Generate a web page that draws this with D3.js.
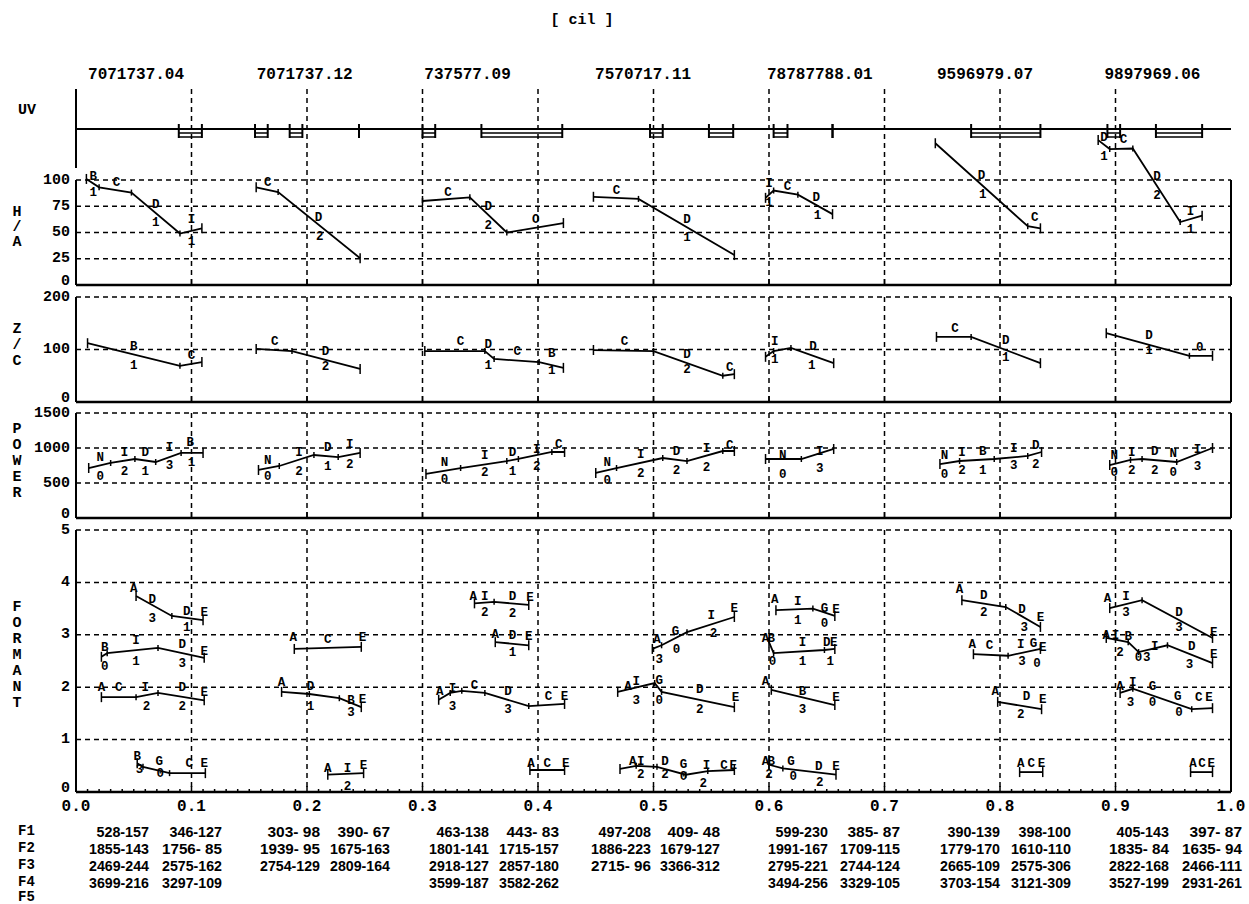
<!DOCTYPE html>
<html>
<head>
<meta charset="utf-8">
<script src="https://cdn.jsdelivr.net/npm/d3@7"></script>
<style>
  body { margin: 0; background: #fff; }
  text { font-family: "Liberation Mono", "DejaVu Sans Mono", monospace; font-weight: bold; fill: #000; }
  .lab { font-size: 12.5px; }
  .tbl { font-family: "Liberation Sans", "DejaVu Sans", sans-serif; font-weight: bold; font-size: 15px; white-space: pre; }
</style>
</head>
<body>
<div id="chart"></div>
<script>
// ---- data ----
const title = "[ cil ]";
const headers = ["7071737.04", "7071737.12", "737577.09", "7570717.11", "78787788.01", "9596979.07", "9897969.06"];
const xTicks = [0, 0.1, 0.2, 0.3, 0.4, 0.5, 0.6, 0.7, 0.8, 0.9, 1.0];

// UV intervals [start, end]
const uvMarks = [[0.089, 0.109], [0.155, 0.166], [0.185, 0.196], [0.245, 0.245], [0.300, 0.311],
  [0.351, 0.421], [0.497, 0.508], [0.548, 0.569], [0.604, 0.616], [0.655, 0.655],
  [0.775, 0.835], [0.893, 0.904], [0.935, 0.975]];

const haTicks = [0, 25, 50, 75, 100];
const haLines = [
  [[0.009, 101], [0.020, 93], [0.048, 88], [0.090, 49], [0.109, 54]],
  [[0.156, 93], [0.175, 88.5], [0.246, 25.5]],
  [[0.300, 80], [0.341, 83.5], [0.373, 50], [0.422, 59]],
  [[0.448, 84], [0.487, 82], [0.570, 28.5]],
  [[0.597, 83], [0.604, 90], [0.625, 86], [0.655, 67.5]],
  [[0.744, 135], [0.824, 56], [0.835, 54]],
  [[0.885, 138], [0.895, 129.5], [0.915, 130], [0.956, 60], [0.975, 66]]
];
const haLabels = [
  [0.015, 103, "B"], [0.015, 88, "1"], [0.035, 97, "C"], [0.069, 76, "D"], [0.069, 59, "1"], [0.100, 62, "I"], [0.100, 41, "1"],
  [0.166, 97, "C"], [0.210, 64, "D"], [0.211, 46, "2"],
  [0.322, 88, "C"], [0.357, 74, "D"], [0.357, 56, "2"], [0.398, 62, "O"],
  [0.468, 90, "C"], [0.529, 62, "D"], [0.529, 45, "1"],
  [0.600, 96, "I"], [0.600, 78, "1"], [0.616, 93, "C"], [0.641, 83, "D"], [0.642, 66, "1"],
  [0.784, 104, "D"], [0.785, 86, "1"], [0.830, 64, "C"],
  [0.890, 140, "D"], [0.890, 122, "1"], [0.907, 138, "C"], [0.936, 103, "D"], [0.936, 85, "2"], [0.965, 70, "I"], [0.965, 52, "1"]
];

const zcTicks = [0, 100, 200];
const zcLines = [
  [[0.010, 112], [0.090, 69], [0.109, 76]],
  [[0.156, 101], [0.187, 97], [0.246, 63]],
  [[0.302, 97], [0.354, 97], [0.362, 82], [0.401, 76], [0.422, 65]],
  [[0.448, 99], [0.500, 97], [0.560, 50], [0.570, 53]],
  [[0.597, 86], [0.604, 97], [0.619, 103], [0.656, 74]],
  [[0.745, 124], [0.775, 124], [0.835, 74]],
  [[0.892, 131], [0.964, 88], [0.984, 88]]
];
const zcLabels = [
  [0.050, 105, "B"], [0.050, 69, "1"], [0.100, 88, "C"],
  [0.172, 114, "C"], [0.216, 95, "D"], [0.216, 66, "2"],
  [0.333, 115, "C"], [0.357, 108, "D"], [0.382, 95, "C"], [0.412, 91, "B"], [0.357, 69, "1"], [0.412, 59, "1"],
  [0.475, 115, "C"], [0.529, 90, "D"], [0.529, 61, "2"], [0.566, 65, "C"],
  [0.605, 114, "I"], [0.605, 80, "1"], [0.638, 105, "D"], [0.637, 69, "1"],
  [0.761, 139, "C"], [0.805, 116, "D"], [0.805, 84, "1"],
  [0.929, 125, "D"], [0.929, 97, "1"], [0.973, 103, "0"]
];

const pwTicks = [0, 500, 1000, 1500];
const pwLines = [
  [[0.011, 714], [0.030, 786], [0.051, 843], [0.069, 800], [0.091, 929], [0.110, 929]],
  [[0.158, 686], [0.176, 743], [0.206, 900], [0.227, 871], [0.246, 929]],
  [[0.303, 629], [0.333, 714], [0.373, 814], [0.383, 843], [0.412, 943], [0.423, 943]],
  [[0.450, 643], [0.468, 714], [0.508, 857], [0.529, 814], [0.560, 957], [0.570, 957]],
  [[0.597, 843], [0.628, 843], [0.656, 986]],
  [[0.748, 771], [0.765, 814], [0.795, 843], [0.824, 886], [0.836, 943]],
  [[0.895, 757], [0.913, 829], [0.923, 843], [0.953, 800], [0.984, 1000]]
];
const pwLabels = [
  [0.021, 857, "N"], [0.021, 586, "0"], [0.042, 929, "I"], [0.042, 657, "2"], [0.060, 929, "D"], [0.060, 657, "1"],
  [0.081, 1000, "I"], [0.081, 743, "3"], [0.099, 1071, "B"], [0.100, 786, "1"],
  [0.166, 814, "N"], [0.166, 586, "0"], [0.193, 929, "I"], [0.193, 657, "2"], [0.218, 1000, "D"], [0.218, 729, "1"],
  [0.237, 1043, "I"], [0.237, 757, "2"],
  [0.319, 786, "N"], [0.319, 543, "0"], [0.354, 886, "I"], [0.354, 643, "2"], [0.378, 929, "D"], [0.378, 657, "1"],
  [0.399, 971, "I"], [0.399, 729, "2"], [0.418, 1043, "C"],
  [0.460, 786, "N"], [0.460, 529, "0"], [0.489, 900, "I"], [0.489, 629, "2"], [0.520, 943, "D"], [0.520, 671, "2"],
  [0.546, 986, "I"], [0.546, 714, "2"], [0.566, 1029, "C"],
  [0.612, 886, "N"], [0.612, 614, "0"], [0.644, 943, "I"], [0.644, 700, "3"],
  [0.752, 886, "N"], [0.752, 614, "0"], [0.767, 929, "I"], [0.767, 671, "2"], [0.785, 943, "B"], [0.785, 671, "1"],
  [0.812, 986, "I"], [0.812, 743, "3"], [0.831, 1029, "D"], [0.831, 757, "2"],
  [0.899, 886, "N"], [0.899, 643, "0"], [0.914, 929, "I"], [0.914, 671, "2"], [0.934, 943, "D"], [0.934, 671, "2"],
  [0.950, 914, "N"], [0.950, 643, "0"], [0.971, 971, "I"], [0.971, 729, "3"]
];

const fmTicks = [0, 1, 2, 3, 4, 5];
const fmLines = [
  [[0.052, 3.74], [0.083, 3.36], [0.110, 3.28]],
  [[0.022, 2.58], [0.027, 2.65], [0.071, 2.75], [0.111, 2.56]],
  [[0.022, 1.81], [0.052, 1.81], [0.071, 1.89], [0.111, 1.75]],
  [[0.053, 0.55], [0.058, 0.48], [0.081, 0.36], [0.112, 0.36]],
  [[0.189, 2.73], [0.247, 2.77]],
  [[0.178, 1.91], [0.202, 1.87], [0.228, 1.79], [0.247, 1.62]],
  [[0.218, 0.33], [0.249, 0.36]],
  [[0.345, 3.6], [0.362, 3.63], [0.392, 3.57]],
  [[0.363, 2.86], [0.392, 2.8]],
  [[0.314, 1.76], [0.324, 1.89], [0.334, 1.93], [0.354, 1.89], [0.392, 1.64], [0.423, 1.68]],
  [[0.393, 0.42], [0.423, 0.42]],
  [[0.499, 2.73], [0.507, 2.8], [0.529, 3.05], [0.570, 3.34]],
  [[0.469, 1.91], [0.501, 2.08], [0.507, 1.91], [0.570, 1.62]],
  [[0.471, 0.44], [0.485, 0.5], [0.503, 0.48], [0.528, 0.33], [0.547, 0.4], [0.570, 0.42]],
  [[0.606, 3.47], [0.638, 3.5], [0.657, 3.36]],
  [[0.600, 2.86], [0.604, 2.65], [0.648, 2.71], [0.657, 2.73]],
  [[0.602, 1.95], [0.657, 1.66]],
  [[0.600, 0.52], [0.612, 0.45], [0.658, 0.33]],
  [[0.767, 3.66], [0.805, 3.53], [0.835, 3.15]],
  [[0.777, 2.63], [0.807, 2.6], [0.835, 2.73]],
  [[0.798, 1.72], [0.836, 1.58]],
  [[0.817, 0.38], [0.837, 0.38]],
  [[0.895, 3.51], [0.923, 3.66], [0.984, 2.94]],
  [[0.892, 2.94], [0.911, 2.86], [0.920, 2.67], [0.945, 2.8], [0.984, 2.46]],
  [[0.904, 1.89], [0.915, 1.97], [0.966, 1.58], [0.984, 1.6]],
  [[0.965, 0.38], [0.984, 0.38]]
];
const fmLabels = [
  [0.050, 3.87, "A"], [0.066, 3.66, "D"], [0.066, 3.30, "3"], [0.096, 3.44, "D"], [0.111, 3.42, "E"], [0.096, 3.13, "1"],
  [0.025, 2.75, "B"], [0.025, 2.39, "0"], [0.052, 2.88, "I"], [0.052, 2.48, "1"], [0.092, 2.81, "D"], [0.092, 2.44, "3"], [0.111, 2.67, "E"],
  [0.022, 1.98, "A"], [0.037, 1.98, "C"], [0.060, 1.98, "I"], [0.061, 1.62, "2"], [0.092, 1.98, "D"], [0.092, 1.62, "2"], [0.111, 1.89, "E"],
  [0.053, 0.66, "B"], [0.072, 0.58, "G"], [0.055, 0.42, "3"], [0.073, 0.34, "0"], [0.098, 0.53, "C"], [0.111, 0.53, "E"],
  [0.188, 2.94, "A"], [0.218, 2.90, "C"], [0.248, 2.94, "E"],
  [0.178, 2.08, "A"], [0.203, 2.00, "D"], [0.203, 1.62, "1"], [0.238, 1.74, "B"], [0.248, 1.76, "E"], [0.238, 1.51, "3"],
  [0.218, 0.44, "A"], [0.235, 0.44, "I"], [0.249, 0.50, "E"], [0.235, 0.10, "2"],
  [0.344, 3.72, "A"], [0.354, 3.72, "I"], [0.354, 3.42, "2"], [0.378, 3.72, "D"], [0.378, 3.40, "2"], [0.393, 3.70, "E"],
  [0.363, 3.00, "A"], [0.378, 2.98, "D"], [0.392, 2.96, "E"], [0.378, 2.65, "1"],
  [0.315, 1.91, "A"], [0.326, 1.97, "I"], [0.326, 1.62, "3"], [0.345, 2.02, "C"], [0.374, 1.91, "D"], [0.374, 1.56, "3"], [0.409, 1.81, "C"], [0.423, 1.81, "E"],
  [0.394, 0.53, "A"], [0.408, 0.53, "C"], [0.424, 0.53, "E"],
  [0.503, 2.90, "A"], [0.519, 3.05, "G"], [0.550, 3.36, "I"], [0.570, 3.49, "E"], [0.505, 2.52, "3"], [0.520, 2.71, "0"], [0.552, 3.02, "2"],
  [0.478, 2.00, "A"], [0.485, 2.10, "I"], [0.485, 1.74, "3"], [0.505, 2.12, "G"], [0.505, 1.74, "0"], [0.540, 1.95, "D"], [0.540, 1.56, "2"], [0.571, 1.79, "E"],
  [0.482, 0.57, "A"], [0.489, 0.57, "I"], [0.510, 0.57, "D"], [0.526, 0.52, "G"], [0.546, 0.50, "I"], [0.561, 0.50, "C"], [0.569, 0.50, "E"],
  [0.489, 0.32, "2"], [0.510, 0.32, "2"], [0.526, 0.29, "0"], [0.543, 0.15, "2"],
  [0.605, 3.66, "A"], [0.625, 3.63, "I"], [0.625, 3.26, "1"], [0.648, 3.49, "G"], [0.658, 3.47, "E"], [0.648, 3.20, "0"],
  [0.597, 2.92, "A"], [0.602, 2.92, "B"], [0.629, 2.84, "I"], [0.650, 2.84, "D"], [0.656, 2.84, "E"], [0.603, 2.48, "0"], [0.629, 2.48, "1"], [0.653, 2.48, "1"],
  [0.597, 2.10, "A"], [0.629, 1.91, "B"], [0.629, 1.56, "3"], [0.658, 1.79, "E"],
  [0.597, 0.57, "A"], [0.602, 0.57, "B"], [0.619, 0.57, "G"], [0.643, 0.48, "D"], [0.658, 0.48, "E"], [0.600, 0.32, "2"], [0.621, 0.29, "0"], [0.644, 0.17, "2"],
  [0.765, 3.85, "A"], [0.786, 3.74, "D"], [0.786, 3.42, "2"], [0.819, 3.47, "D"], [0.821, 3.13, "3"], [0.835, 3.32, "E"],
  [0.776, 2.80, "A"], [0.791, 2.79, "C"], [0.818, 2.80, "I"], [0.829, 2.83, "G"], [0.837, 2.74, "E"], [0.819, 2.48, "3"], [0.832, 2.44, "0"],
  [0.796, 1.91, "A"], [0.823, 1.81, "D"], [0.818, 1.47, "2"], [0.837, 1.76, "E"],
  [0.818, 0.53, "A"], [0.827, 0.53, "C"], [0.836, 0.53, "E"],
  [0.893, 3.68, "A"], [0.909, 3.72, "I"], [0.909, 3.42, "3"], [0.955, 3.42, "D"], [0.955, 3.13, "3"], [0.985, 3.03, "E"],
  [0.892, 2.98, "A"], [0.900, 2.98, "I"], [0.911, 2.96, "B"], [0.904, 2.65, "2"], [0.920, 2.56, "0"], [0.934, 2.77, "I"], [0.927, 2.56, "3"],
  [0.966, 2.77, "D"], [0.964, 2.42, "3"], [0.985, 2.61, "E"],
  [0.904, 2.00, "A"], [0.915, 2.08, "I"], [0.932, 2.00, "G"], [0.913, 1.70, "3"], [0.932, 1.70, "0"], [0.954, 1.81, "G"], [0.955, 1.51, "0"],
  [0.972, 1.79, "C"], [0.981, 1.79, "E"],
  [0.967, 0.53, "A"], [0.975, 0.53, "C"], [0.983, 0.53, "E"]
];

// formant table, one pair per column
const rowNames = ["F1", "F2", "F3", "F4", "F5"];
const f1Vals = [["528-157", "346-127"], ["303- 98", "390- 67"], ["463-138", "443- 83"], ["497-208", "409- 48"], ["599-230", "385- 87"], ["390-139", "398-100"], ["405-143", "397- 87"]];
const f2Vals = [["1855-143", "1756- 85"], ["1939- 95", "1675-163"], ["1801-141", "1715-157"], ["1886-223", "1679-127"], ["1991-167", "1709-115"], ["1779-170", "1610-110"], ["1835- 84", "1635- 94"]];
const f3Vals = [["2469-244", "2575-162"], ["2754-129", "2809-164"], ["2918-127", "2857-180"], ["2715- 96", "3366-312"], ["2795-221", "2744-124"], ["2665-109", "2575-306"], ["2822-168", "2466-111"]];
const f4Vals = [["3699-216", "3297-109"], null, ["3599-187", "3582-262"], null, ["3494-256", "3329-105"], ["3703-154", "3121-309"], ["3527-199", "2931-261"]];
const f5Vals = [null, null, null, null, null, null, null];

// ---- layout ----
const W = 1249, H = 904;
const svg = d3.select("#chart").append("svg").attr("width", W).attr("height", H);
const x = d3.scaleLinear().domain([0, 1]).range([76, 1231]);
const dash = "5,4";

svg.append("text").attr("x", 582).attr("y", 20).attr("text-anchor", "middle")
  .attr("dominant-baseline", "central").style("font-size", "15px").text(title);

// column headers
const headerPos = [0.052, 0.198, 0.339, 0.491, 0.644, 0.787, 0.932];
svg.selectAll("text.header").data(headers).enter().append("text")
  .attr("class", "header")
  .attr("x", (d, i) => x(headerPos[i])).attr("y", 75)
  .attr("text-anchor", "middle").attr("dominant-baseline", "central")
  .style("font-size", "16px").text(d => d);

// UV strip
const uvTop = 89, uvBase = 129, uvBottom = 168;
svg.append("line").attr("x1", x(0)).attr("x2", x(0)).attr("y1", uvTop).attr("y2", uvBottom)
  .attr("stroke", "#000").attr("stroke-width", 2);
svg.append("line").attr("x1", x(0)).attr("x2", x(1)).attr("y1", uvBase).attr("y2", uvBase)
  .attr("stroke", "#000").attr("stroke-width", 2);
xTicks.slice(1, -1).forEach(t => {
  svg.append("line").attr("x1", x(t)).attr("x2", x(t)).attr("y1", uvTop).attr("y2", 180)
    .attr("stroke", "#000").attr("stroke-width", 1.5).attr("stroke-dasharray", dash);
});
svg.append("text").attr("x", 27).attr("y", 110).attr("text-anchor", "middle")
  .attr("dominant-baseline", "central").style("font-size", "15px").text("UV");
uvMarks.forEach(m => {
  const g = svg.append("g").attr("stroke", "#000");
  [m[0], m[1]].forEach(v => g.append("line").attr("x1", x(v)).attr("x2", x(v))
    .attr("y1", uvBase - 5).attr("y2", uvBase + 9).attr("stroke-width", 2));
  if (m[1] > m[0]) {
    [uvBase + 4, uvBase + 8].forEach(yy => g.append("line").attr("x1", x(m[0])).attr("x2", x(m[1]))
      .attr("y1", yy).attr("y2", yy).attr("stroke-width", 1.5));
  }
});

// panels
const panels = [
  { ticks: haTicks, lines: haLines, labels: haLabels, y: d3.scaleLinear().domain([0, 100]).range([285, 180]),
    name: ["H", "/", "A"], nameY: 212, nameStep: 15 },
  { ticks: zcTicks, lines: zcLines, labels: zcLabels, y: d3.scaleLinear().domain([0, 200]).range([402, 297]),
    name: ["Z", "/", "C"], nameY: 329, nameStep: 16 },
  { ticks: pwTicks, lines: pwLines, labels: pwLabels, y: d3.scaleLinear().domain([0, 1500]).range([518, 413]),
    name: ["P", "O", "W", "E", "R"], nameY: 429, nameStep: 16 },
  { ticks: fmTicks, lines: fmLines, labels: fmLabels, y: d3.scaleLinear().domain([0, 5]).range([792, 530]),
    name: ["F", "O", "R", "M", "A", "N", "T"], nameY: 607, nameStep: 16 }
];

const line = d3.line();

panels.forEach((p, pi) => {
  const g = svg.append("g");
  const y = p.y;
  const top = y.range()[1], bottom = y.range()[0];

  // dashed grid
  g.selectAll("line.hgrid").data(p.ticks.filter(t => t > 0)).enter().append("line")
    .attr("x1", x(0)).attr("x2", x(1)).attr("y1", d => y(d)).attr("y2", d => y(d))
    .attr("stroke", "#000").attr("stroke-width", 1.5).attr("stroke-dasharray", dash);
  g.selectAll("line.vgrid").data(xTicks.slice(1, -1)).enter().append("line")
    .attr("x1", d => x(d)).attr("x2", d => x(d)).attr("y1", top).attr("y2", bottom)
    .attr("stroke", "#000").attr("stroke-width", 1.5).attr("stroke-dasharray", dash);

  // frame
  g.append("line").attr("x1", x(0)).attr("x2", x(0)).attr("y1", top).attr("y2", bottom).attr("stroke", "#000").attr("stroke-width", 2);
  g.append("line").attr("x1", x(1)).attr("x2", x(1)).attr("y1", top).attr("y2", bottom).attr("stroke", "#000").attr("stroke-width", 2);
  g.append("line").attr("x1", x(0)).attr("x2", x(1)).attr("y1", bottom).attr("y2", bottom).attr("stroke", "#000").attr("stroke-width", 2.5);

  // bottom ticks
  const isLast = pi === panels.length - 1;
  const minor = isLast ? d3.range(0, 101).map(i => i / 100) : xTicks;
  g.selectAll("line.xt").data(minor).enter().append("line")
    .attr("x1", d => x(d)).attr("x2", d => x(d))
    .attr("y1", bottom).attr("y2", d => bottom - (Math.round(d * 100) % 10 === 0 ? 6 : 3))
    .attr("stroke", "#000").attr("stroke-width", 1.5);

  // y tick labels
  g.selectAll("text.yt").data(p.ticks).enter().append("text")
    .attr("x", 70).attr("y", d => y(d) - (d === 0 ? 4 : 0))
    .attr("text-anchor", "end").attr("dominant-baseline", "central")
    .style("font-size", "15px").text(d => d);

  // panel name
  g.selectAll("text.pname").data(p.name).enter().append("text")
    .attr("x", 17).attr("y", (d, i) => p.nameY + i * p.nameStep)
    .attr("text-anchor", "middle").attr("dominant-baseline", "central")
    .style("font-size", "15px").text(d => d);

  // tracks
  p.lines.forEach(pts => {
    g.append("path").attr("d", line(pts.map(d => [x(d[0]), y(d[1])])))
      .attr("fill", "none").attr("stroke", "#000").attr("stroke-width", 1.8);
    g.selectAll(null).data(pts).enter().append("line")
      .attr("x1", d => x(d[0])).attr("x2", d => x(d[0]))
      .attr("y1", (d, i) => y(d[1]) - (i === 0 || i === pts.length - 1 ? 5 : 3))
      .attr("y2", (d, i) => y(d[1]) + (i === 0 || i === pts.length - 1 ? 5 : 3))
      .attr("stroke", "#000").attr("stroke-width", 1.5);
  });

  g.selectAll("text.lab").data(p.labels).enter().append("text")
    .attr("class", "lab")
    .attr("x", d => x(d[0])).attr("y", d => y(d[1]))
    .attr("text-anchor", "middle").attr("dominant-baseline", "central")
    .text(d => d[2]);
});

// x axis labels
svg.selectAll("text.xl").data(xTicks).enter().append("text")
  .attr("x", d => x(d)).attr("y", 807)
  .attr("text-anchor", "middle").attr("dominant-baseline", "central")
  .style("font-size", "16px").text(d => d.toFixed(1));

// table
const rows = [f1Vals, f2Vals, f3Vals, f4Vals, f5Vals];
const rowY = [831, 848, 865, 882, 897];
const colRight = [[149, 222], [320, 390], [489, 559], [651, 720], [828, 900], [1000, 1071], [1169, 1242]];
rows.forEach((vals, r) => {
  svg.append("text").attr("x", 18).attr("y", rowY[r]).attr("dominant-baseline", "central")
    .style("font-size", "14px").text(rowNames[r]);
  vals.forEach((pair, c) => {
    if (!pair) return;
    pair.forEach((s, k) => {
      svg.append("text").attr("class", "tbl")
        .attr("x", colRight[c][k]).attr("y", rowY[r])
        .attr("text-anchor", "end").attr("dominant-baseline", "central")
        .attr("textLength", s.length * 7.5).attr("lengthAdjust", "spacingAndGlyphs")
        .text(s);
    });
  });
});
</script>
</body>
</html>
